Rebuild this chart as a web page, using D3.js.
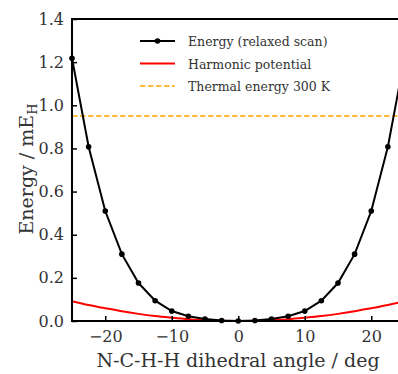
<!DOCTYPE html>
<html>
<head>
<meta charset="utf-8">
<script src="https://cdn.jsdelivr.net/npm/d3@7"></script>
<style>
  body { margin: 0; background: #fff; }
  svg text { font-family: "DejaVu Serif", serif !important; }
</style>
</head>
<body>
<div id="chart"></div>
<script>
// scan angles (deg)
var angles = [-25, -22.5, -20, -17.5, -15, -12.5, -10, -7.5, -5, -2.5, 0,
              2.5, 5, 7.5, 10, 12.5, 15, 17.5, 20, 22.5, 25];
// relaxed scan energy (mEh)
var energy = [1.218, 0.808, 0.510, 0.310, 0.176, 0.094, 0.046, 0.022, 0.009, 0.002, 0.000,
              0.002, 0.009, 0.022, 0.046, 0.094, 0.176, 0.310, 0.510, 0.808, 1.218];
// harmonic potential read at the same angles
var harmonic = [0.092, 0.074, 0.059, 0.045, 0.033, 0.023, 0.015, 0.008, 0.004, 0.001, 0.000,
                0.001, 0.004, 0.008, 0.015, 0.023, 0.033, 0.045, 0.059, 0.074, 0.092];
var thermal = 0.950;
var xTicks = [-20, -10, 0, 10, 20];
var yTicks = [0, 0.2, 0.4, 0.6, 0.8, 1.0, 1.2, 1.4];
var legendLabels = ["Energy (relaxed scan)", "Harmonic potential", "Thermal energy 300 K"];

var margin = {top: 19, left: 72},
    width = 332.5,
    height = 302;

var svg = d3.select("#chart").append("svg")
    .attr("width", 398)
    .attr("height", 374);

var g = svg.append("g")
    .attr("transform", "translate(" + margin.left + "," + margin.top + ")");

var x = d3.scaleLinear().domain([-25, 25]).range([0, width]);
var y = d3.scaleLinear().domain([0, 1.4]).range([height, 0]);

g.append("clipPath").attr("id", "clip")
  .append("rect").attr("width", width).attr("height", height);

// thermal energy line
g.append("line")
    .attr("clip-path", "url(#clip)")
    .attr("x1", x(-25)).attr("x2", x(25))
    .attr("y1", y(thermal)).attr("y2", y(thermal))
    .attr("stroke", "orange")
    .attr("stroke-width", 1.5)
    .attr("stroke-dasharray", "5.5,2.5");

// harmonic
var pts = angles.map(function(a, i) { return [a, harmonic[i]]; });
g.append("path")
    .datum(pts)
    .attr("clip-path", "url(#clip)")
    .attr("fill", "none")
    .attr("stroke", "red")
    .attr("stroke-width", 2)
    .attr("d", d3.line().x(function(d) { return x(d[0]); }).y(function(d) { return y(d[1]); })
                        .curve(d3.curveNatural));

// relaxed scan
var epts = angles.map(function(a, i) { return [a, energy[i]]; });
g.append("path")
    .datum(epts)
    .attr("fill", "none")
    .attr("stroke", "black")
    .attr("stroke-width", 2)
    .attr("d", d3.line().x(function(d) { return x(d[0]); }).y(function(d) { return y(d[1]); }));

g.selectAll(".dot")
    .data(epts)
  .enter().append("circle")
    .attr("class", "dot")
    .attr("cx", function(d) { return x(d[0]); })
    .attr("cy", function(d) { return y(d[1]); })
    .attr("r", 2.8)
    .attr("fill", "black");

// axes
var fmtX = function(d) { return d < 0 ? "\u2212" + Math.abs(d) : d; };
var xAxis = g.append("g")
    .attr("transform", "translate(0," + height + ")")
    .call(d3.axisBottom(x).tickValues(xTicks).tickFormat(fmtX).tickSizeInner(-5).tickSizeOuter(0).tickPadding(10));
var yAxis = g.append("g")
    .call(d3.axisLeft(y).tickValues(yTicks).tickFormat(d3.format(".1f")).tickSizeInner(-5).tickSizeOuter(0).tickPadding(8));

[xAxis, yAxis].forEach(function(ax) {
  ax.attr("font-family", null);
  ax.select(".domain").remove();
  ax.selectAll(".tick line").attr("stroke", "black").attr("stroke-width", 1.5);
  ax.selectAll(".tick text")
      .attr("fill", "#333")
      .style("font-size", "16px");
});

// frame
g.append("rect")
    .attr("width", width).attr("height", height)
    .attr("fill", "none")
    .attr("stroke", "black")
    .attr("stroke-width", 2);

// axis labels
svg.append("text")
    .attr("x", 238).attr("y", 367)
    .attr("text-anchor", "middle")
    .attr("fill", "#333")
    .style("font-size", "19px")
    .text("N-C-H-H dihedral angle / deg");

var yl = svg.append("text")
    .attr("transform", "translate(33," + 169 + ") rotate(-90)")
    .attr("text-anchor", "middle")
    .attr("fill", "#333")
    .style("font-size", "19px");
yl.append("tspan").text("Energy / mE");
yl.append("tspan").attr("dy", 4).style("font-size", "13px").text("H");

// legend
var leg = svg.append("g").attr("transform", "translate(140,41)");
legendLabels.forEach(function(t, i) {
  var row = leg.append("g").attr("transform", "translate(0," + (i * 22.5) + ")");
  var ln = row.append("line").attr("x1", 0).attr("x2", 35).attr("y1", 0).attr("y2", 0);
  if (i === 0) {
    ln.attr("stroke", "black").attr("stroke-width", 2);
    row.append("circle").attr("cx", 17.5).attr("cy", 0).attr("r", 2.8).attr("fill", "black");
  } else if (i === 1) {
    ln.attr("stroke", "red").attr("stroke-width", 2);
  } else {
    ln.attr("stroke", "orange").attr("stroke-width", 1.5).attr("stroke-dasharray", "5.5,2.5");
  }
  row.append("text")
      .attr("x", 48).attr("y", 5)
      .attr("fill", "#333")
      .style("font-size", "12.5px")
      .text(t);
});
</script>
</body>
</html>
